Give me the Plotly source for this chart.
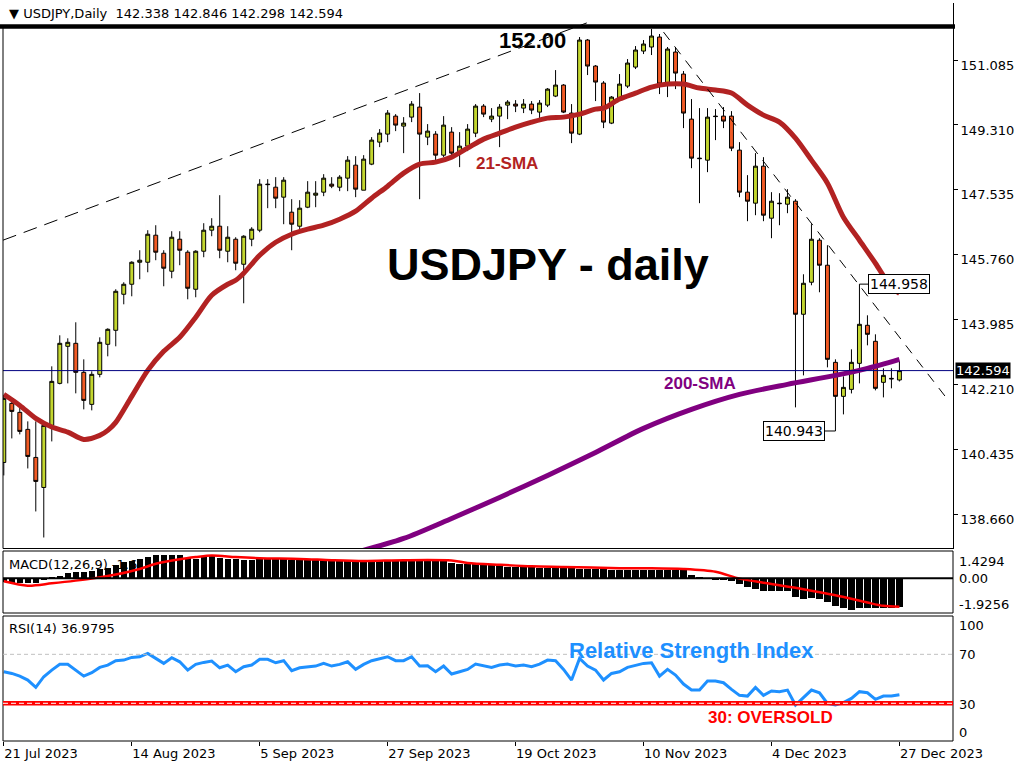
import plotly.graph_objects as go

W, H = 1024, 768

# ---------------- data ----------------
opens = [140.083,141.698,141.452,140.987,140.220,139.399,141.096,142.245,143.258,143.340,
         142.547,141.671,142.492,143.313,143.696,144.681,144.955,145.557,145.557,146.296,
         145.803,145.311,146.186,145.831,144.818,145.858,146.433,146.542,145.858,146.186,
         145.502,146.186,146.433,147.692,147.609,147.336,146.925,146.542,147.062,147.390,
         147.473,147.692,147.609,147.856,148.211,147.527,148.239,148.841,149.060,149.552,
         149.279,149.525,149.799,148.978,149.060,148.485,149.115,148.540,148.731,149.087,
         149.826,149.470,149.552,149.853,149.881,149.771,149.881,149.662,149.853,150.100,
         150.401,149.635,149.060,151.632,150.921,150.456,149.361,150.045,150.373,150.893,
         151.331,151.441,151.714,150.456,151.304,150.702,149.470,148.403,148.348,149.552,
         149.552,149.552,148.622,147.473,147.172,148.184,146.761,147.172,147.144,147.226,
         144.134,145.010,146.159,145.475,142.820,141.890,142.081,142.793,143.833,143.395,
         142.273,142.382,142.338]
highs = [141.917,141.780,141.616,141.206,141.206,141.206,142.711,143.559,143.477,143.915,
         142.902,142.574,143.504,143.751,144.818,145.010,145.584,145.885,146.433,146.569,
         145.885,146.405,146.405,145.885,145.885,146.624,146.761,147.390,146.542,146.241,
         146.296,146.515,147.828,147.828,147.883,147.883,147.281,147.254,147.774,147.774,
         147.965,147.883,147.938,148.458,148.458,148.485,148.978,149.197,149.717,149.607,
         149.525,149.963,150.182,149.334,149.142,149.552,149.251,149.115,149.334,149.881,
         149.881,149.771,149.881,149.990,149.990,150.018,149.963,149.990,150.319,150.811,
         150.428,149.881,151.714,151.660,150.948,150.510,150.100,150.702,151.112,151.468,
         151.632,151.933,151.797,151.441,151.441,150.784,150.018,149.771,149.771,149.744,
         149.799,149.689,148.841,147.938,148.540,148.430,147.473,147.445,147.555,147.281,
         145.228,146.597,146.214,146.022,142.902,142.437,143.176,144.958,144.106,143.586,
         142.656,142.656,142.846]
lows = [139.728,140.740,140.850,139.919,138.743,138.031,140.658,142.218,142.245,141.972,
        141.534,141.507,142.410,142.984,143.258,144.407,144.626,145.092,145.283,145.612,
        144.900,145.119,145.475,144.544,144.599,145.694,146.268,145.666,145.557,145.338,
        144.435,145.995,146.378,147.035,147.035,146.597,145.885,146.460,147.035,147.062,
        147.363,147.582,147.500,147.500,147.336,147.527,148.211,148.704,148.841,149.142,
        148.540,149.388,147.281,148.759,148.348,148.430,148.403,148.157,148.595,148.978,
        149.525,149.388,148.704,149.470,149.662,149.635,149.607,149.470,149.799,150.072,
        149.635,148.814,149.033,150.675,149.963,149.224,149.334,149.990,150.319,150.839,
        151.249,151.222,150.155,150.072,150.291,149.224,148.129,147.172,148.020,148.896,
        149.224,148.595,147.336,146.679,146.843,146.679,146.214,146.569,146.898,141.589,
        142.464,144.927,144.736,142.683,140.943,141.397,141.970,142.245,143.285,142.054,
        141.862,142.109,142.298]
closes = [141.835,141.479,140.932,140.248,139.564,141.096,142.300,143.340,143.368,142.547,
          141.780,142.492,143.368,143.723,144.763,144.955,145.557,145.612,146.323,145.831,
          145.393,146.241,145.885,144.845,145.858,146.433,146.542,145.885,146.241,145.530,
          146.268,146.460,147.692,147.680,147.308,147.801,146.597,147.035,147.473,147.445,
          147.856,147.637,147.883,148.348,147.555,148.376,148.896,149.087,149.635,149.306,
          149.361,149.881,149.060,149.142,148.485,149.306,148.540,148.731,149.197,149.826,
          149.607,149.552,149.799,149.936,149.826,149.881,149.717,149.908,150.291,150.401,
          149.662,149.087,151.632,150.921,150.483,149.388,150.072,150.428,151.003,151.359,
          151.523,151.742,150.428,151.386,150.729,149.635,148.403,148.390,149.525,149.540,
          149.416,148.677,147.473,147.226,148.184,146.843,147.226,147.160,147.336,144.134,
          144.982,146.186,145.475,142.902,141.890,142.136,142.820,143.860,143.586,142.109,
          142.464,142.370,142.594]

sma21_idx = [0,2,4,6,8,10,12,13,14,16,18,20,22,24,26,28,29,30,32,34,36,38,40,42,44,46,48,50,52,54,
             56,58,60,62,64,66,68,70,72,74,75,77,79,81,83,85,87,89,91,93,95,97,99,101,103,105,107,109,111,112]
sma21 = [141.945,141.643,141.288,141.050,140.913,140.713,140.822,140.959,141.178,141.890,
         142.601,143.121,143.504,144.052,144.654,144.955,145.064,145.256,145.748,146.104,
         146.323,146.460,146.569,146.734,146.953,147.308,147.637,147.993,148.239,148.294,
         148.430,148.677,148.923,149.087,149.251,149.388,149.498,149.525,149.607,149.744,
         149.771,150.018,150.182,150.346,150.428,150.428,150.319,150.264,150.182,149.853,
         149.580,149.388,148.950,148.348,147.719,146.788,146.159,145.530,144.873,144.708]

sma200_idx = [44,50,56,62,68,74,80,86,92,98,104,108,112]
sma200 = [137.620,138.004,138.551,139.126,139.728,140.357,141.014,141.534,141.944,142.218,
          142.464,142.656,142.902]

macd_hist = [-0.25,-0.27,-0.27,-0.27,-0.27,-0.08,0.04,0.13,0.34,0.40,
             0.40,0.45,0.55,0.62,0.83,0.98,1.09,1.19,1.32,1.40,
             1.40,1.43,1.40,1.26,1.21,1.30,1.34,1.26,1.21,1.17,
             1.13,1.13,1.17,1.17,1.17,1.17,1.13,1.11,1.11,1.11,
             1.11,1.11,1.09,1.09,1.06,1.06,1.09,1.09,1.13,1.13,
             1.11,1.11,1.11,1.09,1.09,1.09,0.96,0.85,0.85,0.85,
             0.85,0.80,0.80,0.70,0.70,0.70,0.70,0.64,0.64,0.64,
             0.64,0.64,0.55,0.55,0.55,0.55,0.53,0.53,0.53,0.53,
             0.53,0.53,0.53,0.53,0.53,0.51,0.19,0.02,-0.02,-0.08,
             -0.08,-0.18,-0.37,-0.55,-0.65,-0.75,-0.75,-0.75,-0.80,-1.14,
             -1.24,-1.20,-1.24,-1.43,-1.71,-1.82,-1.92,-1.84,-1.82,-1.84,
             -1.82,-1.82,-1.75]

signal_idx = [0,3,6,11,14,17,19,22,24,26,29,32,37,41,45,50,56,58,62,66,70,77,81,85,89,92,95,100,104,108,110,112]
signal = [-0.18,-0.45,-0.31,-0.02,0.23,0.57,0.89,1.17,1.30,1.40,1.30,1.23,1.19,1.11,1.06,1.11,
          1.09,0.94,0.83,0.74,0.70,0.62,0.62,0.57,0.40,-0.02,-0.27,-0.67,-1.04,-1.49,-1.69,-1.75]

rsi = [55.8,54.4,52.2,49.0,43.0,51.7,57.1,61.8,61.8,57.1,
       52.2,55.0,59.3,61.2,64.8,65.3,67.5,68.0,70.7,66.7,
       62.6,67.2,63.9,57.1,61.8,63.4,64.5,59.0,61.2,55.8,
       59.9,61.2,65.9,65.9,63.1,64.8,56.6,59.0,59.9,60.4,
       62.6,60.4,61.8,63.9,57.7,61.8,64.8,66.1,68.0,64.8,
       64.8,68.0,60.4,60.7,55.8,60.4,53.9,55.8,57.7,62.0,
       60.4,59.3,61.2,62.0,60.4,61.2,59.9,62.0,65.3,64.8,
       57.7,49.0,66.7,60.4,57.1,49.0,54.4,55.8,59.3,61.2,
       62.6,63.1,52.2,57.7,53.1,45.7,40.8,40.8,48.2,48.2,
       46.8,41.4,36.5,35.9,43.0,36.5,40.0,39.5,40.8,28.6,
       34.6,40.8,38.6,29.9,28.6,30.5,34.0,39.5,38.6,33.2,
       35.9,35.9,36.9795]

trend_up_idx = [-0.1, 72.9]
trend_up_price = [146.16, 152.10]
trend_dn_idx = [82.5, 117.9]
trend_dn_price = [151.85, 141.84]

price_ticks = [151.085, 149.310, 147.535, 145.760, 143.985, 142.210, 140.435, 138.660]
date_tick_idx = [0, 16, 32, 48, 64, 80, 96, 112]
date_tick_labels = ["21 Jul 2023", "14 Aug 2023", "5 Sep 2023", "27 Sep 2023",
                    "19 Oct 2023", "10 Nov 2023", "4 Dec 2023", "27 Dec 2023"]
level_152 = 152.00
last_price = closes[-1]
high_mark_idx, high_mark = 107, 144.958
low_mark_idx, low_mark = 104, 140.943
macd_max, macd_min = 1.4294, -1.9256
rsi_levels = [70, 30]

# ---------------- layout helpers ----------------
def PX(x):
    return x / W

def PY(y):
    return 1 - y / H

AX = "DejaVu Sans"
BOLD = "Liberation Sans"
n = len(closes)
xs = list(range(n))
XR = [-0.1, 118.7]
XD = [PX(3), PX(953)]

fig = go.Figure()

fig.add_trace(go.Candlestick(
    x=xs, open=opens, high=highs, low=lows, close=closes,
    increasing=dict(line=dict(color="black", width=1), fillcolor="#C3D62F"),
    decreasing=dict(line=dict(color="black", width=1), fillcolor="#F15A24"),
    whiskerwidth=0, xaxis="x", yaxis="y", showlegend=False, hoverinfo="skip"))

fig.add_trace(go.Scatter(x=sma21_idx, y=sma21, mode="lines",
                         line=dict(color="#B22222", width=5, shape="spline", smoothing=0.8),
                         xaxis="x", yaxis="y", showlegend=False, hoverinfo="skip"))
fig.add_trace(go.Scatter(x=sma200_idx, y=sma200, mode="lines",
                         line=dict(color="#800080", width=5, shape="spline", smoothing=0.8),
                         xaxis="x", yaxis="y", showlegend=False, hoverinfo="skip"))

fig.add_trace(go.Bar(x=xs, y=macd_hist, width=0.8, marker=dict(color="black", line=dict(width=0)),
                     xaxis="x2", yaxis="y2", showlegend=False, hoverinfo="skip"))
fig.add_trace(go.Scatter(x=signal_idx, y=signal, mode="lines",
                         line=dict(color="#FF0000", width=2.5, shape="spline", smoothing=0.8),
                         xaxis="x2", yaxis="y2", showlegend=False, hoverinfo="skip"))

fig.add_trace(go.Scatter(x=xs, y=rsi, mode="lines", line=dict(color="#1E90FF", width=3),
                         xaxis="x3", yaxis="y3", showlegend=False, hoverinfo="skip"))

shapes = []
# thick 152.00 level
shapes.append(dict(type="line", xref="paper", yref="y", x0=0, x1=PX(955), y0=level_152, y1=level_152,
                   line=dict(color="black", width=4.5)))
# current price line
shapes.append(dict(type="line", xref="paper", yref="y", x0=PX(3), x1=PX(953), y0=last_price, y1=last_price,
                   line=dict(color="#000080", width=1)))
# trendlines
shapes.append(dict(type="line", xref="x", yref="y", x0=trend_up_idx[0], x1=trend_up_idx[1],
                   y0=trend_up_price[0], y1=trend_up_price[1],
                   line=dict(color="black", width=1, dash="14px,8px")))
shapes.append(dict(type="line", xref="x", yref="y", x0=trend_dn_idx[0], x1=trend_dn_idx[1],
                   y0=trend_dn_price[0], y1=trend_dn_price[1],
                   line=dict(color="black", width=1, dash="10px,8px")))
# frames
shapes.append(dict(type="line", xref="paper", yref="paper", x0=PX(3), x1=PX(3), y0=PY(27), y1=PY(548.5),
                   line=dict(color="black", width=1)))
shapes.append(dict(type="line", xref="paper", yref="paper", x0=PX(3), x1=PX(953), y0=PY(548.5), y1=PY(548.5),
                   line=dict(color="black", width=1)))
shapes.append(dict(type="rect", xref="paper", yref="paper", x0=PX(3), x1=PX(953), y0=PY(551), y1=PY(613),
                   line=dict(color="black", width=1)))
shapes.append(dict(type="rect", xref="paper", yref="paper", x0=PX(3), x1=PX(953), y0=PY(616), y1=PY(741),
                   line=dict(color="black", width=1)))
# MACD zero line
shapes.append(dict(type="line", xref="paper", yref="y2", x0=PX(3), x1=PX(953), y0=0, y1=0,
                   line=dict(color="black", width=2)))
# RSI levels
shapes.append(dict(type="line", xref="paper", yref="y3", x0=PX(3), x1=PX(953), y0=rsi_levels[0], y1=rsi_levels[0],
                   line=dict(color="#C0C0C0", width=1, dash="4px,3px")))
shapes.append(dict(type="line", xref="paper", yref="y3", x0=PX(3), x1=PX(953), y0=rsi_levels[1], y1=rsi_levels[1],
                   line=dict(color="#FF0000", width=4.5)))
shapes.append(dict(type="line", xref="paper", yref="y3", x0=PX(3), x1=PX(953), y0=rsi_levels[1], y1=rsi_levels[1],
                   line=dict(color="white", width=1, dash="5px,3px")))

ann = []
def txt(x, y, text, size, color="black", family=AX, xanchor="center", bold=False, **kw):
    t = "<b>" + text + "</b>" if bold else text
    d = dict(x=x, y=y, xref=kw.pop("xref", "paper"), yref=kw.pop("yref", "paper"), text=t,
             showarrow=False, xanchor=xanchor, yanchor="middle",
             font=dict(family=family, size=size, color=color))
    d.update(kw)
    ann.append(d)

hdr = "\u25BC\u00a0USDJPY,Daily\u00a0\u00a0" + " ".join(f"{v:.3f}" for v in (opens[-1], highs[-1], lows[-1], closes[-1]))
txt(PX(7), PY(13), hdr, 13, xanchor="left")
txt(PX(532), PY(40), f"{level_152:.2f}", 22, family=BOLD, bold=True)
txt(PX(548), PY(264), "USDJPY - daily", 45, family=BOLD, bold=True)
txt(PX(507), PY(164), "21-SMA", 17, color="#B22222", family=BOLD, bold=True)
txt(PX(700), PY(383), "200-SMA", 17, color="#800080", family=BOLD, bold=True)
txt(PX(691), PY(650), "Relative Strength Index", 22, color="#1E90FF", family=BOLD, bold=True)
txt(PX(770), PY(717), "30: OVERSOLD", 17, color="#FF0000", family=BOLD, bold=True)
txt(PX(7), PY(564), "MACD(12,26,9) -1.6", 13, xanchor="left")
txt(PX(7), PY(628), f"RSI(14) {rsi[-1]:.4f}", 13, xanchor="left")
# MACD scale labels
txt(PX(957), PY(561), f"{macd_max:.4f}", 13, xanchor="left")
txt(PX(957), PY(578), "0.00", 13, xanchor="left")
txt(PX(957), PY(604), f"{macd_min:.4f}", 13, xanchor="left")
# RSI scale labels
for v, py in ((100, 625), (70, 654), (30, 704), (0, 732)):
    txt(PX(957), PY(py), str(v), 13, xanchor="left")
# current price tag
ann.append(dict(x=PX(955), y=last_price, xref="paper", yref="y", text=f"{last_price:.3f}",
                showarrow=False, xanchor="left", yanchor="middle", bgcolor="black", borderpad=0,
                font=dict(family=AX, size=13, color="white")))
# high / low tags
ann.append(dict(x=high_mark_idx, y=high_mark, xref="x", yref="y", text=f"{high_mark:.3f}",
                showarrow=True, arrowhead=0, arrowwidth=1, arrowcolor="black", ax=40, ay=0, standoff=0,
                bgcolor="white", bordercolor="black", borderwidth=1, borderpad=1,
                font=dict(family=AX, size=14, color="black")))
ann.append(dict(x=low_mark_idx, y=low_mark, xref="x", yref="y", text=f"{low_mark:.3f}",
                showarrow=True, arrowhead=0, arrowwidth=1, arrowcolor="black", ax=-41, ay=0, standoff=0,
                bgcolor="white", bordercolor="black", borderwidth=1, borderpad=1,
                font=dict(family=AX, size=14, color="black")))

noax = dict(showgrid=False, zeroline=False, showticklabels=False, ticks="", automargin=False)
fig.update_layout(
    width=W, height=H, autosize=False, margin=dict(l=0, r=0, t=0, b=0, pad=0),
    paper_bgcolor="white", plot_bgcolor="white", showlegend=False, bargap=0,
    xaxis=dict(domain=XD, range=XR, anchor="y", rangeslider=dict(visible=False), **noax),
    xaxis2=dict(domain=XD, range=XR, anchor="y2", matches="x", **noax),
    xaxis3=dict(domain=XD, range=XR, anchor="y3", matches="x", showgrid=False, zeroline=False,
                automargin=False,
                tickvals=date_tick_idx, ticktext=date_tick_labels, ticks="outside", ticklen=4,
                tickcolor="black", ticklabelposition="outside right",
                tickfont=dict(family=AX, size=13, color="black")),
    yaxis=dict(domain=[PY(548.5), PY(3)], range=[137.730, 152.645], anchor="x", side="right",
               showgrid=False, zeroline=False, showline=True, linecolor="black", linewidth=1,
               automargin=False,
               tickvals=price_ticks, ticktext=[f"{v:.3f}" for v in price_ticks],
               ticks="outside", ticklen=4, tickcolor="black", ticklabelshift=5,
               tickfont=dict(family=AX, size=13, color="black")),
    yaxis2=dict(domain=[PY(613), PY(551)], range=[-2.13, 1.675], anchor="x2", side="right", **noax),
    yaxis3=dict(domain=[PY(741), PY(616)], range=[-0.8, 101.3], anchor="x3", side="right", **noax),
    shapes=shapes, annotations=ann,
)

fig.write_html(
    "out.html",
    config={"responsive": False, "displayModeBar": False},
    post_script="document.body.style.margin='0';document.body.style.overflow='hidden';",
)
